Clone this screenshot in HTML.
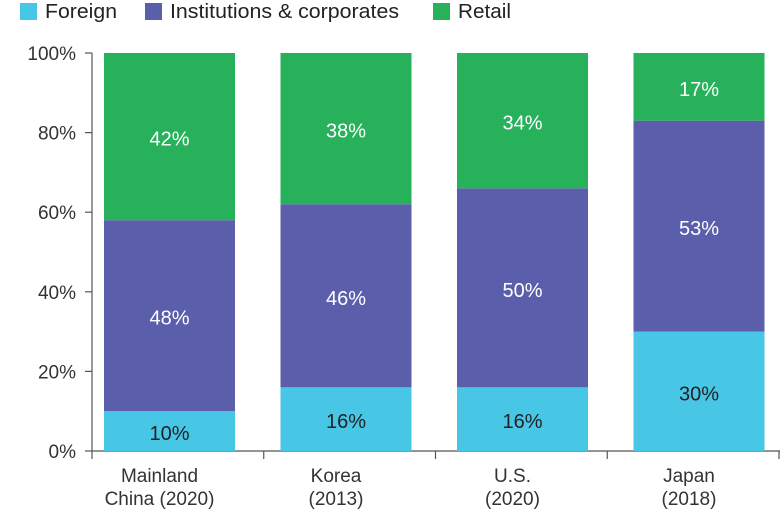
<!DOCTYPE html>
<html><head><meta charset="utf-8"><style>
body{margin:0;background:#fff;width:783px;height:518px;overflow:hidden;font-family:"Liberation Sans",sans-serif}
svg text{font-family:"Liberation Sans",sans-serif}
</style></head><body>
<svg id="chart" width="783" height="518" xmlns="http://www.w3.org/2000/svg"></svg>
<script>
const categories = [["Mainland","China (2020)"],["Korea","(2013)"],["U.S.","(2020)"],["Japan","(2018)"]];
const foreign = [10,16,16,30];
const institutions = [48,46,50,53];
const retail = [42,38,34,17];
const yTicks = [0,20,40,60,80,100];
const seriesNames = ["Foreign","Institutions & corporates","Retail"];
const colors = ["#48C6E6","#5B5EAB","#26B15A"];
const textColors = ["#222","#fff","#fff"];

const svg = document.getElementById('chart');
const NS = "http://www.w3.org/2000/svg";
const y0 = 451, y100 = 53, axisX = 92;
const y = v => y0 - (v/100)*(y0-y100);
const barLeft = i => 104 + i*176.5;
const barW = 131;
function mk(tag, attrs){const e=document.createElementNS(NS,tag);for(const k in attrs)e.setAttribute(k,attrs[k]);svg.appendChild(e);return e;}

// legend
const legX=[20,145,433];
const legLen=[72,229,53];
seriesNames.forEach((n,i)=>{
  const r=mk('rect',{x:legX[i],y:3,width:17,height:17,fill:colors[i]});
  
  
  const t=mk('text',{x:legX[i]+25,y:18,'font-size':20,fill:'#222',textLength:legLen[i],lengthAdjust:'spacingAndGlyphs'});
  t.textContent=n;
  
  
});

// y axis
const ya=mk('line',{x1:axisX,y1:y100,x2:axisX,y2:y0,stroke:'#555','stroke-width':1.2});


yTicks.forEach(v=>{
  mk('line',{x1:85,y1:y(v),x2:axisX,y2:y(v),stroke:'#555','stroke-width':1.2});
  const t=mk('text',{x:76,y:y(v)+7,'text-anchor':'end','font-size':19,fill:'#333'});
  t.textContent=v+'%';
  
  
});
// x axis
const xa=mk('line',{x1:axisX,y1:y0,x2:780,y2:y0,stroke:'#555','stroke-width':1.2});


for(let i=0;i<=categories.length;i++){
  const x=axisX+i*171.75;
  mk('line',{x1:x,y1:y0,x2:x,y2:y0+8,stroke:'#555','stroke-width':1.2});
}

// bars
categories.forEach((c,i)=>{
  const vals=[foreign[i],institutions[i],retail[i]];
  let base=0;
  vals.forEach((v,s)=>{
    const r=mk('rect',{x:barLeft(i),y:y(base+v),width:barW,height:y(base)-y(base+v),fill:colors[s]});
    
    
    const t=mk('text',{x:barLeft(i)+barW/2,y:(y(base)+y(base+v))/2+9,'text-anchor':'middle','font-size':20,fill:textColors[s]});
    t.textContent=v+'%';
    
    
    base+=v;
  });
  c.forEach((line,k)=>{
    const t=mk('text',{x:barLeft(i)+barW/2-10,y:482+k*23,'text-anchor':'middle','font-size':19,fill:'#333'});
    t.textContent=line;
    
    
  });
});
</script>
</body></html>
